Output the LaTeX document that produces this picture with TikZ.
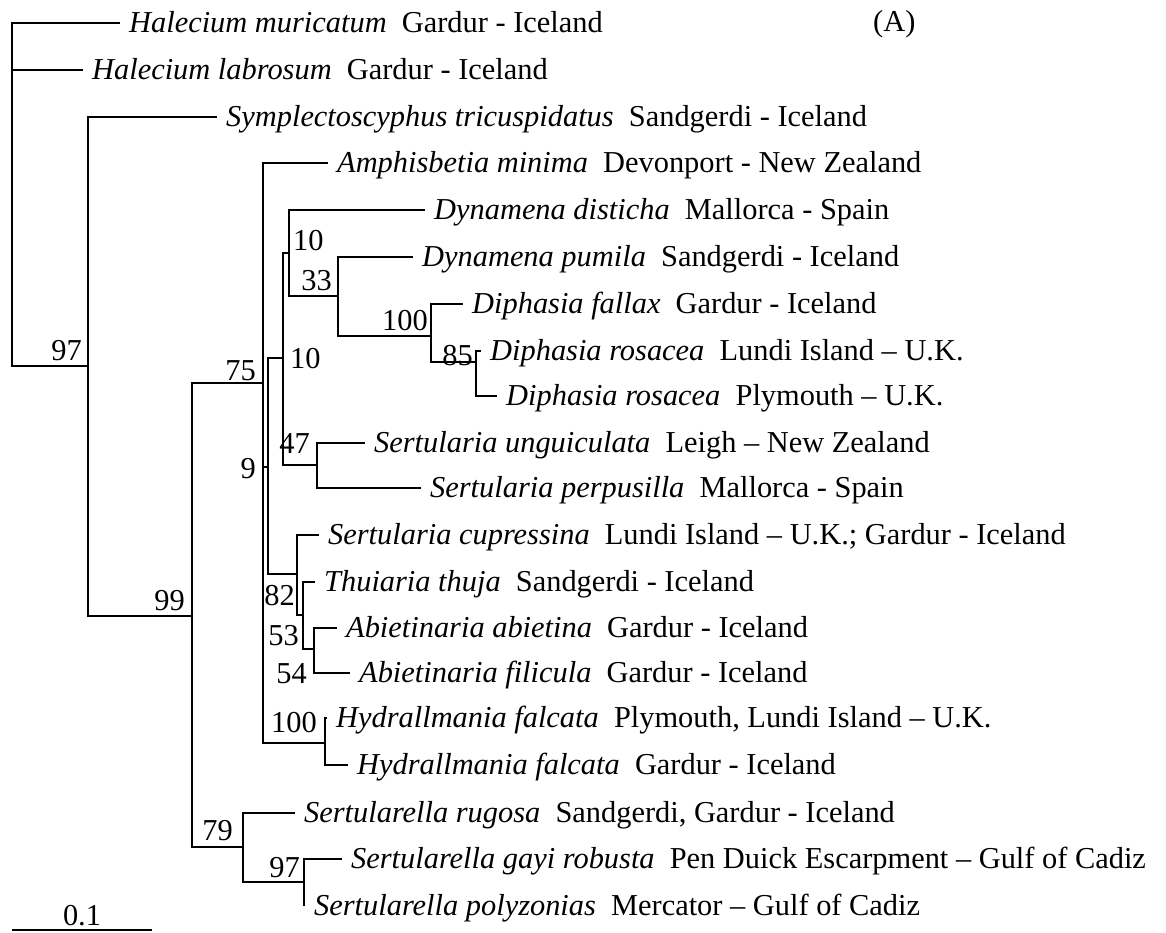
\documentclass[tikz,border=0pt]{standalone}
\usepackage{fontspec}
\setmainfont{Liberation Serif}
\usetikzlibrary{calc}
\begin{document}
\begin{tikzpicture}[x=1pt,y=-1pt,
  branch/.style={line width=2.6pt,line join=miter,line cap=butt},
  taxon/.style={anchor=base west,inner sep=0pt,font=\fontsize{30.4}{32}\selectfont},
  bsl/.style={anchor=base east,inner sep=0pt,font=\fontsize{30.4}{32}\selectfont},
  bsr/.style={anchor=base west,inner sep=0pt,font=\fontsize{30.4}{32}\selectfont}]
\useasboundingbox (0,0) rectangle (1166,932);

% internal nodes (x of vertical bar, y of incoming branch)
\coordinate (root) at (12,195);
\coordinate (n99)  at (88,366);
\coordinate (nB)   at (192,616);
\coordinate (n75)  at (263,383);
\coordinate (n9)   at (268,467);
\coordinate (n10b) at (283,358);
\coordinate (n10a) at (289,253);
\coordinate (n33)  at (338,296);
\coordinate (n100) at (431,336);
\coordinate (n85)  at (476,362);
\coordinate (n47)  at (317,465);
\coordinate (n82)  at (297,574);
\coordinate (n53)  at (303,615);
\coordinate (n54)  at (314,649);
\coordinate (nHyd) at (325,743);
\coordinate (n79)  at (243,847);
\coordinate (n97b) at (304,882);

% leaf tips
\coordinate (tHm)  at (120,23);
\coordinate (tHl)  at (83,70);
\coordinate (tSym) at (217,117);
\coordinate (tAm)  at (328,163);
\coordinate (tDd)  at (425,210);
\coordinate (tDp)  at (413,257);
\coordinate (tDf)  at (463,304);
\coordinate (tDrL) at (481,351);
\coordinate (tDrP) at (497,396);
\coordinate (tSu)  at (365,443);
\coordinate (tSp)  at (421,488);
\coordinate (tSc)  at (319,535);
\coordinate (tTt)  at (315,582);
\coordinate (tAa)  at (337,628);
\coordinate (tAf)  at (350,673);
\coordinate (tHyP) at (327,718);
\coordinate (tHyG) at (348,765);
\coordinate (tSr)  at (295,813);
\coordinate (tSg)  at (342,859);
\coordinate (tSpo) at (304,906);

% branches
\draw[branch] (root) |- (tHm);
\draw[branch] (root) |- (tHl);
\draw[branch] (root) |- (n99);
\draw[branch] (n99) |- (tSym);
\draw[branch] (n99) |- (nB);
\draw[branch] (nB) |- (n75);
\draw[branch] (nB) |- (n79);
\draw[branch] (n75) |- (tAm);
\draw[branch] (n75) |- (n9);
\draw[branch] (n75) |- (nHyd);
\draw[branch] (n9) |- (n10b);
\draw[branch] (n9) |- (n82);
\draw[branch] (n10b) |- (n10a);
\draw[branch] (n10b) |- (n47);
\draw[branch] (n10a) |- (tDd);
\draw[branch] (n10a) |- (n33);
\draw[branch] (n33) |- (tDp);
\draw[branch] (n33) |- (n100);
\draw[branch] (n100) |- (tDf);
\draw[branch] (n100) |- (n85);
\draw[branch] (n85) |- (tDrL);
\draw[branch] (n85) |- (tDrP);
\draw[branch] (n47) |- (tSu);
\draw[branch] (n47) |- (tSp);
\draw[branch] (n82) |- (tSc);
\draw[branch] (n82) |- (n53);
\draw[branch] (n53) |- (tTt);
\draw[branch] (n53) |- (n54);
\draw[branch] (n54) |- (tAa);
\draw[branch] (n54) |- (tAf);
\draw[branch] (nHyd) |- (tHyP);
\draw[branch] (nHyd) |- (tHyG);
\draw[branch] (n79) |- (tSr);
\draw[branch] (n79) |- (n97b);
\draw[branch] (n97b) |- (tSg);
\draw[branch] (n97b) |- (tSpo);

% taxon labels
\node[taxon] (lHm)  at ($(tHm)+(9,9.5)$)  {\textit{Halecium muricatum}\ \ Gardur - Iceland};
\node[taxon] (lHl)  at ($(tHl)+(9,9.5)$)  {\textit{Halecium labrosum}\ \ Gardur - Iceland};
\node[taxon] (lSym) at ($(tSym)+(9,9.5)$) {\textit{Symplectoscyphus tricuspidatus}\ \ Sandgerdi - Iceland};
\node[taxon] (lAm)  at ($(tAm)+(9,9.5)$)  {\textit{Amphisbetia minima}\ \ Devonport - New Zealand};
\node[taxon] (lDd)  at ($(tDd)+(9,9.5)$)  {\textit{Dynamena disticha}\ \ Mallorca - Spain};
\node[taxon] (lDp)  at ($(tDp)+(9,9.5)$)  {\textit{Dynamena pumila}\ \ Sandgerdi - Iceland};
\node[taxon] (lDf)  at ($(tDf)+(9,9.5)$)  {\textit{Diphasia fallax}\ \ Gardur - Iceland};
\node[taxon] (lDrL) at ($(tDrL)+(9,9.5)$) {\textit{Diphasia rosacea}\ \ Lundi Island – U.K.};
\node[taxon] (lDrP) at ($(tDrP)+(9,9.5)$) {\textit{Diphasia rosacea}\ \ Plymouth – U.K.};
\node[taxon] (lSu)  at ($(tSu)+(9,9.5)$)  {\textit{Sertularia unguiculata}\ \ Leigh – New Zealand};
\node[taxon] (lSp)  at ($(tSp)+(9,9.5)$)  {\textit{Sertularia perpusilla}\ \ Mallorca - Spain};
\node[taxon] (lSc)  at ($(tSc)+(9,9.5)$)  {\textit{Sertularia cupressina}\ \ Lundi Island – U.K.; Gardur - Iceland};
\node[taxon] (lTt)  at ($(tTt)+(9,9.5)$)  {\textit{Thuiaria thuja}\ \ Sandgerdi - Iceland};
\node[taxon] (lAa)  at ($(tAa)+(9,9.5)$)  {\textit{Abietinaria abietina}\ \ Gardur - Iceland};
\node[taxon] (lAf)  at ($(tAf)+(9,9.5)$)  {\textit{Abietinaria filicula}\ \ Gardur - Iceland};
\node[taxon] (lHyP) at ($(tHyP)+(9,9.5)$) {\textit{Hydrallmania falcata}\ \ Plymouth, Lundi Island – U.K.};
\node[taxon] (lHyG) at ($(tHyG)+(9,9.5)$) {\textit{Hydrallmania falcata}\ \ Gardur - Iceland};
\node[taxon] (lSr)  at ($(tSr)+(9,9.5)$)  {\textit{Sertularella rugosa}\ \ Sandgerdi, Gardur - Iceland};
\node[taxon] (lSg)  at ($(tSg)+(9,9.5)$)  {\textit{Sertularella gayi robusta}\ \ Pen Duick Escarpment – Gulf of Cadiz};
\node[taxon] (lSpo) at ($(tSpo)+(10,9.5)$) {\textit{Sertularella polyzonias}\ \ Mercator – Gulf of Cadiz};

% bootstrap values
\node[bsl] (b97)  at ($(n99)+(-6,-6)$)   {97};
\node[bsl] (b99)  at ($(nB)+(-7,-6)$)    {99};
\node[bsl] (b75)  at ($(n75)+(-7,-3)$)   {75};
\node[bsr] (b10a) at ($(n10a)+(4,-3)$)   {10};
\node[bsl] (b33)  at ($(n33)+(-6,-6)$)   {33};
\node[bsl] (b100) at ($(n100)+(-3,-6)$)  {100};
\node[bsl] (b85)  at ($(n85)+(-3,3)$)    {85};
\node[bsr] (b10b) at ($(n10b)+(7,10)$)   {10};
\node[bsl] (b47)  at ($(n47)+(-7,-12)$)  {47};
\node[bsl] (b9)   at ($(n9)+(-12,11)$)   {9};
\node[bsl] (b82)  at ($(n82)+(-2,31)$)   {82};
\node[bsl] (b53)  at ($(n53)+(-4,30)$)   {53};
\node[bsl] (b54)  at ($(n54)+(-7,34)$)   {54};
\node[bsl] (b100h) at ($(nHyd)+(-8,-11)$) {100};
\node[bsl] (b79)  at ($(n79)+(-10,-7)$)  {79};
\node[bsl] (b97b) at ($(n97b)+(-4,-5)$)  {97};

% panel letter
\node[bsr] (panel) at (873,31) {(A)};

% scale bar
\coordinate (sb0) at (12,930);
\coordinate (sb1) at (152,930);
\draw[branch] (sb0) -- (sb1);
\node[anchor=base,inner sep=0pt,font=\fontsize{30.4}{32}\selectfont] (sbl) at ($(sb0)!0.5!(sb1)+(0,-5)$) {0.1};
\end{tikzpicture}
\end{document}
